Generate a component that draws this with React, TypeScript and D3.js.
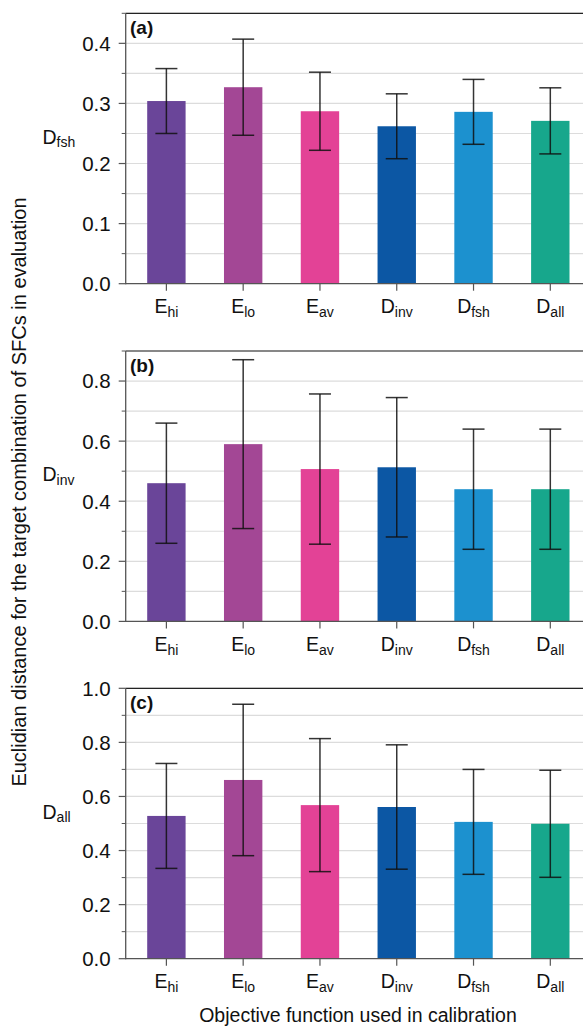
import React, { useEffect, useRef } from 'react';
import * as d3 from 'd3';

// calibration objective functions (x categories)
const catMain = ['E', 'E', 'E', 'D', 'D', 'D'];
const catSub = ['hi', 'lo', 'av', 'inv', 'fsh', 'all'];
const barColors = ['#6a4599', '#a34795', '#e34296', '#0c57a4', '#1c91cf', '#17a78c'];

// panel (a): D_fsh
const meanA = [0.304, 0.327, 0.287, 0.262, 0.286, 0.271];
const errA = [0.054, 0.080, 0.065, 0.054, 0.054, 0.055];
// panel (b): D_inv
const meanB = [0.460, 0.590, 0.507, 0.513, 0.440, 0.440];
const errB = [0.200, 0.281, 0.250, 0.232, 0.200, 0.200];
// panel (c): D_all
const meanC = [0.528, 0.661, 0.568, 0.561, 0.506, 0.499];
const errC = [0.194, 0.280, 0.246, 0.230, 0.194, 0.198];

const panelTags = ['(a)', '(b)', '(c)'];
const rowMain = ['D', 'D', 'D'];
const rowSub = ['fsh', 'inv', 'all'];
const yMaxes = [0.45, 0.9, 1.0];
const majorTicks = [
  [0, 0.1, 0.2, 0.3, 0.4],
  [0, 0.2, 0.4, 0.6, 0.8],
  [0, 0.2, 0.4, 0.6, 0.8, 1.0],
];
const minorStep = [0.05, 0.1, 0.1];

const yLabel = 'Euclidian distance for the target combination of SFCs in evaluation';
const xLabel = 'Objective function used in calibration';

const FONT = '"Liberation Sans", Arial, Helvetica, sans-serif';

const App = () => {
  const ref = useRef(null);

  useEffect(() => {
    const width = 583;
    const height = 1027;
    const left = 125.7;
    const right = 591; // axes run past the cropped image edge
    const panelTops = [13.3, 351, 688.3];
    const panelH = 270.4;

    const svg = d3.select(ref.current);
    svg.selectAll('*').remove();
    svg.attr('width', width).attr('height', height);

    const x = d3.scaleBand()
      .domain(d3.range(catSub.length).map(String))
      .range([left, right])
      .paddingInner(0.5)
      .paddingOuter(0.28);

    const allMeans = [meanA, meanB, meanC];
    const allErrs = [errA, errB, errC];

    panelTops.forEach((top, p) => {
      const bottom = top + panelH;
      const y = d3.scaleLinear().domain([0, yMaxes[p]]).range([bottom, top]);
      const g = svg.append('g');

      // grid lines at every minor step
      const gridVals = d3.range(0, yMaxes[p] + 1e-9, minorStep[p]).filter(v => v > 1e-9);
      g.selectAll('.grid')
        .data(gridVals)
        .enter().append('line')
        .attr('x1', left).attr('x2', width)
        .attr('y1', d => y(d)).attr('y2', d => y(d))
        .attr('stroke', '#dcdcdc')
        .attr('stroke-width', 1.2);

      // bars
      const data = allMeans[p].map((m, i) => ({ i, m, e: allErrs[p][i] }));
      g.selectAll('.bar')
        .data(data)
        .enter().append('rect')
        .attr('x', d => x(String(d.i)))
        .attr('width', x.bandwidth())
        .attr('y', d => y(d.m))
        .attr('height', d => bottom - y(d.m))
        .attr('fill', d => barColors[d.i]);

      // error bars
      const eb = g.selectAll('.err').data(data).enter().append('g')
        .attr('stroke', '#111')
        .attr('stroke-opacity', 0.85)
        .attr('stroke-width', 1.5);
      const cx = d => x(String(d.i)) + x.bandwidth() / 2;
      eb.append('line')
        .attr('x1', cx).attr('x2', cx)
        .attr('y1', d => y(d.m - d.e)).attr('y2', d => y(d.m + d.e));
      eb.append('line')
        .attr('x1', d => cx(d) - 11).attr('x2', d => cx(d) + 11)
        .attr('y1', d => y(d.m + d.e)).attr('y2', d => y(d.m + d.e));
      eb.append('line')
        .attr('x1', d => cx(d) - 11).attr('x2', d => cx(d) + 11)
        .attr('y1', d => y(d.m - d.e)).attr('y2', d => y(d.m - d.e));

      // spines
      g.append('line')
        .attr('x1', left).attr('x2', width).attr('y1', top).attr('y2', top)
        .attr('stroke', '#222').attr('stroke-width', 1.2);
      g.append('line')
        .attr('x1', left).attr('x2', width).attr('y1', bottom).attr('y2', bottom)
        .attr('stroke', '#555').attr('stroke-width', 1.3);
      g.append('line')
        .attr('x1', left).attr('x2', left).attr('y1', top).attr('y2', bottom + 0.6)
        .attr('stroke', '#555').attr('stroke-width', 1.3);

      // y ticks
      g.selectAll('.ytick')
        .data(majorTicks[p])
        .enter().append('line')
        .attr('x1', left - 7).attr('x2', left)
        .attr('y1', d => y(d)).attr('y2', d => y(d))
        .attr('stroke', '#555').attr('stroke-width', 1.2);
      const minorVals = gridVals.concat([0]).filter(v => !majorTicks[p].some(t => Math.abs(t - v) < 1e-6));
      g.selectAll('.yminor')
        .data(minorVals)
        .enter().append('line')
        .attr('x1', left - 4).attr('x2', left)
        .attr('y1', d => y(d)).attr('y2', d => y(d))
        .attr('stroke', '#555').attr('stroke-width', 1);
      g.selectAll('.ylab')
        .data(majorTicks[p])
        .enter().append('text')
        .attr('x', left - 15)
        .attr('y', d => y(d))
        .attr('dy', '0.36em')
        .attr('text-anchor', 'end')
        .attr('font-family', FONT)
        .attr('font-size', 20.5)
        .attr('fill', '#111')
        .text(d => d.toFixed(1));

      // x ticks and labels
      g.selectAll('.xtick')
        .data(data)
        .enter().append('line')
        .attr('x1', cx).attr('x2', cx)
        .attr('y1', bottom).attr('y2', bottom + 7)
        .attr('stroke', '#555').attr('stroke-width', 1.2);
      const xl = g.selectAll('.xlab')
        .data(data)
        .enter().append('text')
        .attr('x', cx)
        .attr('y', bottom + 29.6)
        .attr('text-anchor', 'middle')
        .attr('font-family', FONT)
        .attr('font-size', 19.5)
        .attr('fill', '#111');
      xl.append('tspan').text(d => catMain[d.i]);
      xl.append('tspan').attr('font-size', 14).attr('dy', 3.5).text(d => catSub[d.i]);

      // panel tag
      g.append('text')
        .attr('x', 130).attr('y', top + 20.5)
        .attr('font-family', FONT)
        .attr('font-size', 19)
        .attr('font-weight', 'bold')
        .attr('fill', '#111')
        .text(panelTags[p]);

      // row label
      const rl = g.append('text')
        .attr('x', 42.5).attr('y', top + panelH / 2 - 5)
        .attr('font-family', FONT)
        .attr('font-size', 19.5)
        .attr('fill', '#111');
      rl.append('tspan').text(rowMain[p]);
      rl.append('tspan').attr('font-size', 14).attr('dy', 3.5).text(rowSub[p]);
    });

    // shared axis titles
    svg.append('text')
      .attr('transform', 'translate(25.5, 492) rotate(-90)')
      .attr('text-anchor', 'middle')
      .attr('font-family', FONT)
      .attr('font-size', 20)
      .attr('fill', '#111')
      .text(yLabel);

    svg.append('text')
      .attr('x', 358).attr('y', 1021.5)
      .attr('text-anchor', 'middle')
      .attr('font-family', FONT)
      .attr('font-size', 19.5)
      .attr('fill', '#111')
      .text(xLabel);
  }, []);

  return (
    <svg ref={ref} style={{ position: 'absolute', left: 0, top: 0, display: 'block', background: '#fff' }} />
  );
};

export default App;
